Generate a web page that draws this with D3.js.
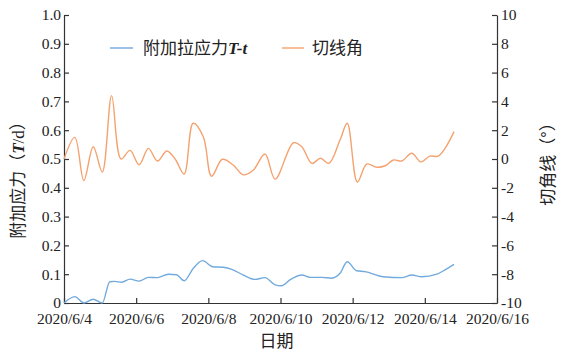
<!DOCTYPE html>
<html>
<head>
<meta charset="utf-8">
<script src="https://cdn.jsdelivr.net/npm/d3@7"></script>
<style>
  body { margin: 0; background: #fff; }
  svg text { fill: #222; }
  .axis path, .axis line { stroke: #333; stroke-width: 1.2; }
  .axis text { font-family: "Liberation Serif", "Times New Roman", serif; font-size: 15.5px; fill: #222; }
  .cjk { font-family: "Noto Sans CJK SC", sans-serif; }
</style>
</head>
<body>
<svg id="chart"></svg>
<script>
// day offsets from 2020/6/4 and values
const angleDays = [0, 0.30, 0.55, 0.81, 1.06, 1.32, 1.58, 1.83, 2.08, 2.34, 2.59, 2.85, 3.08, 3.33, 3.58, 3.86, 4.09, 4.39, 4.69, 4.97, 5.25, 5.57, 5.85, 6.36, 6.59, 6.87, 7.11, 7.34, 7.65, 7.85, 8.13, 8.39, 8.67, 8.90, 9.13, 9.36, 9.64, 9.89, 10.14, 10.37, 10.56, 10.81];
const angleVals = [0, 1.5, -1.5, 0.85, -0.9, 4.4, 0, 0.6, -0.4, 0.74, -0.14, 0.56, 0, -1.04, 2.48, 1.55, -1.2, -0.02, -0.42, -1.1, -0.76, 0.35, -1.4, 1.13, 0.85, -0.3, 0.05, -0.3, 1.32, 2.48, -1.6, -0.35, -0.57, -0.47, -0.07, -0.14, 0.4, -0.2, 0.2, 0.2, 0.74, 1.9];

const stressDays = [0, 0.30, 0.55, 0.81, 1.06, 1.27, 1.40, 1.60, 1.83, 2.08, 2.34, 2.59, 2.89, 3.12, 3.33, 3.58, 3.84, 4.12, 4.41, 4.65, 4.97, 5.29, 5.57, 5.85, 6.03, 6.26, 6.59, 6.82, 7.14, 7.42, 7.65, 7.85, 8.11, 8.34, 8.85, 9.36, 9.64, 9.91, 10.33, 10.56, 10.81];
const stressVals = [0, 0.022, 0, 0.013, 0, 0.074, 0.075, 0.072, 0.083, 0.076, 0.089, 0.088, 0.100, 0.098, 0.077, 0.120, 0.147, 0.126, 0.124, 0.117, 0.097, 0.082, 0.088, 0.063, 0.060, 0.080, 0.097, 0.089, 0.089, 0.086, 0.103, 0.143, 0.112, 0.109, 0.091, 0.088, 0.097, 0.091, 0.100, 0.115, 0.134];

const leftTicks = d3.range(0, 11).map(i => i / 10);
const rightTicks = d3.range(-10, 11, 2);
const dateTicks = [4, 6, 8, 10, 12, 14, 16];

const width = 569, height = 353;
const margin = {top: 15, right: 72, bottom: 50, left: 64};
const innerW = width - margin.left - margin.right;
const innerH = height - margin.top - margin.bottom;

const start = new Date(2020, 5, 4);
const dayToDate = d => new Date(start.getTime() + d * 86400000);

const svg = d3.select('#chart').attr('width', width).attr('height', height);
const g = svg.append('g').attr('transform', `translate(${margin.left},${margin.top})`);

const x = d3.scaleTime()
  .domain([start, new Date(2020, 5, 16)])
  .range([0, innerW]);
const yL = d3.scaleLinear().domain([0, 1]).range([innerH, 0]);
const yR = d3.scaleLinear().domain([-10, 10]).range([innerH, 0]);

const xAxis = d3.axisBottom(x)
  .tickValues(dateTicks.map(d => new Date(2020, 5, d)))
  .tickFormat(d => `${d.getFullYear()}/${d.getMonth() + 1}/${d.getDate()}`)
  .tickSizeInner(-5).tickSizeOuter(0).tickPadding(10);
const leftAxis = d3.axisLeft(yL)
  .tickValues(leftTicks)
  .tickFormat(d => d === 0 ? '0' : d3.format('.1f')(d))
  .tickSizeInner(-5).tickSizeOuter(0).tickPadding(3);
const rightAxis = d3.axisRight(yR)
  .tickValues(rightTicks)
  .tickFormat(d => String(d))
  .tickSizeInner(-5).tickSizeOuter(0).tickPadding(4);

g.append('g').attr('class', 'axis').attr('transform', `translate(0,${innerH})`).call(xAxis);
g.append('g').attr('class', 'axis').call(leftAxis);
g.append('g').attr('class', 'axis').attr('transform', `translate(${innerW},0)`).call(rightAxis);

// lines
const stressData = stressDays.map((d, i) => ({t: dayToDate(d), v: stressVals[i]}));
const angleData = angleDays.map((d, i) => ({t: dayToDate(d), v: angleVals[i]}));

g.append('path').datum(angleData)
  .attr('fill', 'none').attr('stroke', '#f4a26f').attr('stroke-width', 1.4)
  .attr('d', d3.line().x(d => x(d.t)).y(d => yR(d.v)).curve(d3.curveCatmullRom.alpha(0.5)));

g.append('path').datum(stressData)
  .attr('fill', 'none').attr('stroke', '#72aadd').attr('stroke-width', 1.4)
  .attr('d', d3.line().x(d => x(d.t)).y(d => yL(d.v)).curve(d3.curveMonotoneX));

// legend
const legend = svg.append('g').attr('transform', 'translate(110,48)');
legend.append('line').attr('x1', 0).attr('x2', 23).attr('stroke', '#72aadd').attr('stroke-width', 1.4);
const t1 = legend.append('text').attr('x', 33).attr('y', 6).attr('class', 'cjk').style('font-size', '17px');
t1.append('tspan').text('附加拉应力');
t1.append('tspan').text('T-t')
  .style('font-family', '"Liberation Serif", serif').style('font-style', 'italic').style('font-weight', 'bold');
legend.append('line').attr('x1', 172).attr('x2', 194).attr('stroke', '#f4a26f').attr('stroke-width', 1.4);
legend.append('text').attr('x', 202).attr('y', 6).attr('class', 'cjk').style('font-size', '17px').text('切线角');

// axis titles
svg.append('text').attr('class', 'cjk')
  .attr('x', margin.left + innerW / 2 - 4).attr('y', 347)
  .attr('text-anchor', 'middle').style('font-size', '17px').text('日期');

const yt = svg.append('text').attr('class', 'cjk')
  .attr('transform', 'translate(24,176) rotate(-90)')
  .attr('text-anchor', 'middle').style('font-size', '17px');
yt.append('tspan').text('附加应力（');
yt.append('tspan').text('T')
  .style('font-family', '"Liberation Serif", serif').style('font-style', 'italic').style('font-weight', 'bold');
yt.append('tspan').text('/d')
  .style('font-family', '"Liberation Serif", serif');
yt.append('tspan').text('）');

svg.append('text').attr('class', 'cjk')
  .attr('transform', 'translate(554,160) rotate(-90)')
  .attr('text-anchor', 'middle').style('font-size', '17px').text('切角线（°）');
</script>
</body>
</html>
